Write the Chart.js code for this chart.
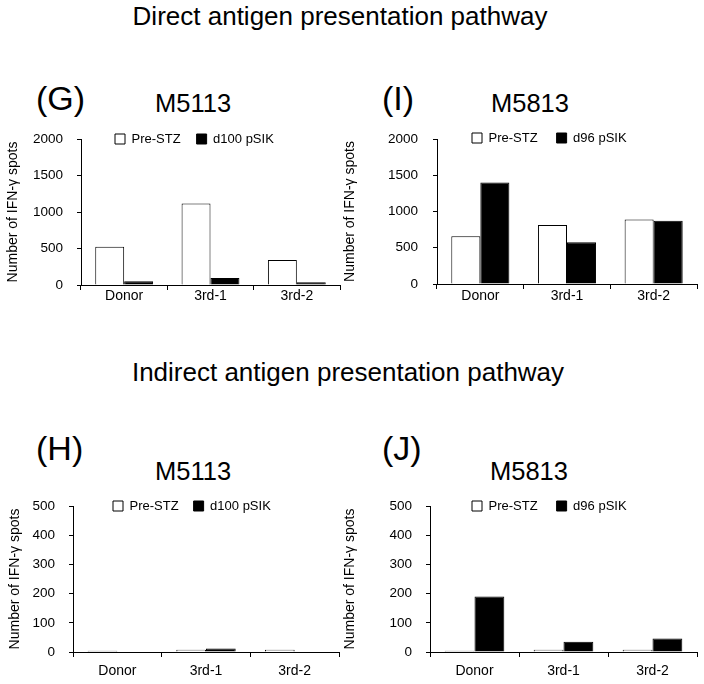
<!DOCTYPE html>
<html><head><meta charset="utf-8">
<script src="https://cdn.jsdelivr.net/npm/chart.js@4/dist/chart.umd.min.js"></script>
<style>
html,body{margin:0;padding:0;background:#fff;}
body{width:704px;height:684px;position:relative;overflow:hidden;font-family:"Liberation Sans",Arial,sans-serif;color:#000;}
.t{position:absolute;white-space:nowrap;line-height:1;}
canvas{position:absolute;}
</style></head><body>
<div class="t" style="left:40px;width:600px;text-align:center;top:3px;font-size:26px">Direct antigen presentation pathway</div>
<div class="t" style="left:48px;width:600px;text-align:center;top:359px;font-size:26px">Indirect antigen presentation pathway</div>
<div class="t" style="left:36px;top:81px;font-size:34px">(G)</div>
<div class="t" style="left:155px;top:90.5px;font-size:25.5px">M5113</div>
<div class="t" style="left:382px;top:81px;font-size:34px">(I)</div>
<div class="t" style="left:491px;top:90.5px;font-size:25.5px">M5813</div>
<div class="t" style="left:36px;top:431px;font-size:34px">(H)</div>
<div class="t" style="left:155px;top:458.5px;font-size:25.5px">M5113</div>
<div class="t" style="left:382px;top:431px;font-size:34px">(J)</div>
<div class="t" style="left:490px;top:458.5px;font-size:25.5px">M5813</div>

<canvas id="g" width="350" height="200" style="left:0px;top:110px"></canvas>
<canvas id="i" width="368" height="200" style="left:336px;top:110px"></canvas>
<canvas id="h" width="350" height="204" style="left:0px;top:480px"></canvas>
<canvas id="j" width="368" height="204" style="left:336px;top:480px"></canvas>

<script>
const categories = ['Donor', '3rd-1', '3rd-2'];
const seriesM5113 = ['Pre-STZ', 'd100 pSIK'];
const seriesM5813 = ['Pre-STZ', 'd96 pSIK'];
const G_preSTZ = [525, 1115, 342];
const G_d100pSIK = [50, 96, 37];
const I_preSTZ = [660, 815, 888];
const I_d96pSIK = [1400, 575, 872];
const H_preSTZ = [4, 8, 8];
const H_d100pSIK = [0, 12, 0];
const J_preSTZ = [4, 8, 8];
const J_d96pSIK = [190, 35, 46];
const directTicks = [0, 500, 1000, 1500, 2000];
const indirectTicks = [0, 100, 200, 300, 400, 500];
const yTitle = 'Number of IFN-\u03b3 spots';

const FONT = '"Liberation Sans", Arial, sans-serif';

function makeChart(id, names, pre, post, ticks, L) {
  const legendPlace = {
    id: 'legendPlace',
    afterLayout(chart) {
      const lg = chart.legend;
      if (!lg) return;
      lg.left = L.lx - L.lp;
      lg.right = lg.left + 330;
      lg.top = L.ly - 1.5 - L.lp;
      lg.bottom = lg.top + 2 * L.lp + 20;
    }
  };
  return new Chart(document.getElementById(id), {
    type: 'bar',
    data: {
      labels: categories,
      datasets: [
        { label: names[0], data: pre, backgroundColor: '#ffffff', borderColor: '#000000', borderWidth: 1 },
        { label: names[1], data: post, backgroundColor: '#000000', borderColor: '#000000', borderWidth: 1 }
      ]
    },
    options: {
      responsive: false,
      animation: false,
      devicePixelRatio: 1,
      events: [],
      layout: { padding: { top: L.top - 1, right: L.right, left: 0, bottom: 0 } },
      datasets: { bar: { categoryPercentage: 0.67, barPercentage: 1 } },
      plugins: {
        legend: {
          position: 'top', align: 'start', maxHeight: 1,
          labels: { boxWidth: 10, boxHeight: 10, padding: L.lp, color: '#000', font: { family: FONT, size: 13 } }
        },
        tooltip: { enabled: false },
        title: { display: false }
      },
      scales: {
        x: {
          afterFit: s => { s.height = L.xh; },
          grid: { display: true, drawOnChartArea: false, drawTicks: true, tickLength: 5, color: '#000', offset: true },
          border: { display: true, color: '#000', width: 1 },
          ticks: { color: '#000', font: { family: FONT, size: 14 }, padding: L.xp, maxRotation: 0, autoSkip: false }
        },
        y: {
          min: ticks[0], max: ticks[ticks.length - 1],
          afterFit: s => { s.width = L.yw; },
          afterBuildTicks: s => { s.ticks = ticks.map(v => ({ value: v })); },
          ticks: { color: '#000', font: { family: FONT, size: 13.5 }, padding: L.yp, callback: v => String(v) },
          grid: { display: true, drawOnChartArea: false, drawTicks: true, tickLength: 4, color: '#000' },
          border: { display: true, color: '#000', width: 1 },
          title: { display: true, text: yTitle, color: '#000', font: { family: FONT, size: 14 }, padding: { top: L.tp, bottom: 0 } }
        }
      }
    },
    plugins: [legendPlace]
  });
}

makeChart('g', seriesM5113, G_preSTZ, G_d100pSIK, directTicks,
  { yw: 81, top: 29, right: 10, xh: 25, tp: 5, yp: 14, xp: -2, lx: 115, ly: 24, lp: 16 });
makeChart('i', seriesM5813, I_preSTZ, I_d96pSIK, directTicks,
  { yw: 101, top: 29, right: 7, xh: 26, tp: 5.6, yp: 15, xp: -1, lx: 136, ly: 23, lp: 19 });
makeChart('h', seriesM5113, H_preSTZ, H_d100pSIK, indirectTicks,
  { yw: 73, top: 26, right: 11, xh: 32, tp: 6.6, yp: 14, xp: 6, lx: 113, ly: 21, lp: 15 });
makeChart('j', seriesM5813, J_preSTZ, J_d96pSIK, indirectTicks,
  { yw: 94, top: 26, right: 7, xh: 32, tp: 5.6, yp: 14, xp: 6, lx: 136, ly: 21, lp: 19 });
</script>
</body></html>
